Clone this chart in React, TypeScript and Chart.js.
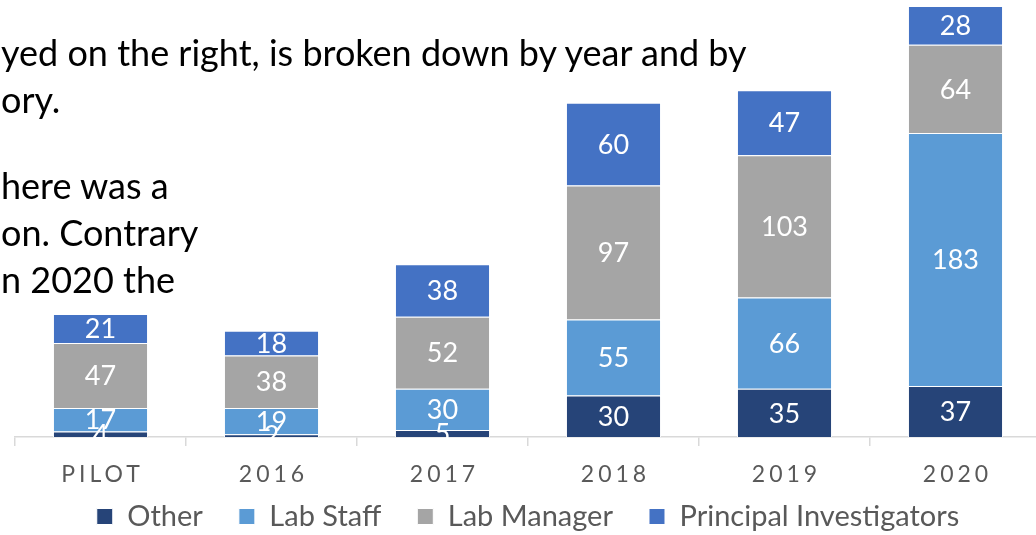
import React, { useEffect, useRef } from "react";
import { Chart, registerables } from "chart.js";

Chart.register(...registerables);

const categories = ["PILOT", "2016", "2017", "2018", "2019", "2020"];
const seriesNames = ["Other", "Lab Staff", "Lab Manager", "Principal Investigators"];
const other = [4, 2, 5, 30, 35, 37];
const labStaff = [17, 19, 30, 55, 66, 183];
const labManager = [47, 38, 52, 97, 103, 64];
const principalInvestigators = [21, 18, 38, 60, 47, 28];
const seriesColors = ["#264478", "#5B9BD5", "#A5A5A5", "#4472C4"];
const yAxisMax = 312;

const slideLines = [
  { text: "yed on the right, is broken down by year and by", top: 34 },
  { text: "ory.", top: 81 },
  { text: "here was a", top: 167 },
  { text: "on. Contrary", top: 214 },
  { text: "n 2020 the", top: 261 },
];

const FONT = "Lato, 'Open Sans', sans-serif";

const dataLabelPlugin = {
  id: "dataLabels",
  afterDatasetsDraw(chart: any) {
    const ctx = chart.ctx;
    ctx.save();
    ctx.fillStyle = "#ffffff";
    ctx.font = `27px ${FONT}`;
    ctx.textAlign = "center";
    ctx.textBaseline = "middle";
    chart.data.datasets.forEach((ds: any, di: number) => {
      const meta = chart.getDatasetMeta(di);
      meta.data.forEach((bar: any, i: number) => {
        const y = (bar.y + bar.base) / 2;
        ctx.fillText(String(ds.data[i]), bar.x, y + 1);
      });
    });
    ctx.restore();
  },
};

const spacedTickPlugin = {
  id: "spacedTicks",
  afterDraw(chart: any) {
    const ctx = chart.ctx;
    const xs = chart.scales.x;
    ctx.save();
    ctx.fillStyle = "#595959";
    ctx.font = `23px ${FONT}`;
    (ctx as any).letterSpacing = "4px";
    ctx.textAlign = "center";
    ctx.textBaseline = "middle";
    categories.forEach((c, i) => {
      const x = xs.getPixelForValue(i);
      ctx.fillText(c, x + 2, xs.top + 38);
    });
    ctx.restore();
  },
};

export default function App() {
  const ref = useRef<HTMLCanvasElement | null>(null);

  useEffect(() => {
    if (!ref.current) return;
    const values = [other, labStaff, labManager, principalInvestigators];
    const chart = new Chart(ref.current, {
      type: "bar",
      data: {
        labels: categories,
        datasets: seriesNames.map((name, k) => ({
          label: name,
          data: values[k],
          backgroundColor: seriesColors[k],
          borderColor: "#ffffff",
          borderWidth: 1,
          barPercentage: 0.556,
          categoryPercentage: 1,
        })),
      },
      options: {
        animation: false,
        responsive: false,
        devicePixelRatio: 1,
        layout: { padding: { left: 15, right: 19, top: 6, bottom: -6 } },
        plugins: {
          tooltip: { enabled: false },
          legend: {
            position: "bottom",
            labels: {
              boxWidth: 16,
              boxHeight: 16,
              color: "#595959",
              font: { family: FONT, size: 29 },
              padding: 36,
            },
          },
        },
        scales: {
          x: {
            stacked: true,
            grid: {
              display: true,
              offset: true,
              drawOnChartArea: false,
              drawTicks: true,
              tickLength: 9,
              color: "#D9D9D9",
              lineWidth: 1.5,
            },
            border: { display: true, color: "#D9D9D9", width: 1.5 },
            ticks: {
              color: "rgba(0,0,0,0)",
              font: { family: FONT, size: 10 },
              padding: 4,
            },
          },
          y: {
            stacked: true,
            display: false,
            min: 0,
            max: yAxisMax,
          },
        },
      },
      plugins: [dataLabelPlugin, spacedTickPlugin],
    });
    return () => chart.destroy();
  }, []);

  return (
    <div
      style={{
        position: "fixed",
        left: 0,
        top: 0,
        width: 1036,
        height: 535,
        overflow: "hidden",
        background: "#ffffff",
      }}
    >
      <canvas
        ref={ref}
        width={1060}
        height={535}
        style={{ position: "absolute", left: 0, top: 0, width: 1060, height: 535 }}
      />
      {slideLines.map((l, i) => (
        <div
          key={i}
          style={{
            position: "absolute",
            left: 1,
            top: l.top,
            fontFamily: FONT,
            fontSize: 36,
            lineHeight: "36px",
            color: "#000000",
            whiteSpace: "nowrap",
          }}
        >
          {l.text}
        </div>
      ))}
    </div>
  );
}
